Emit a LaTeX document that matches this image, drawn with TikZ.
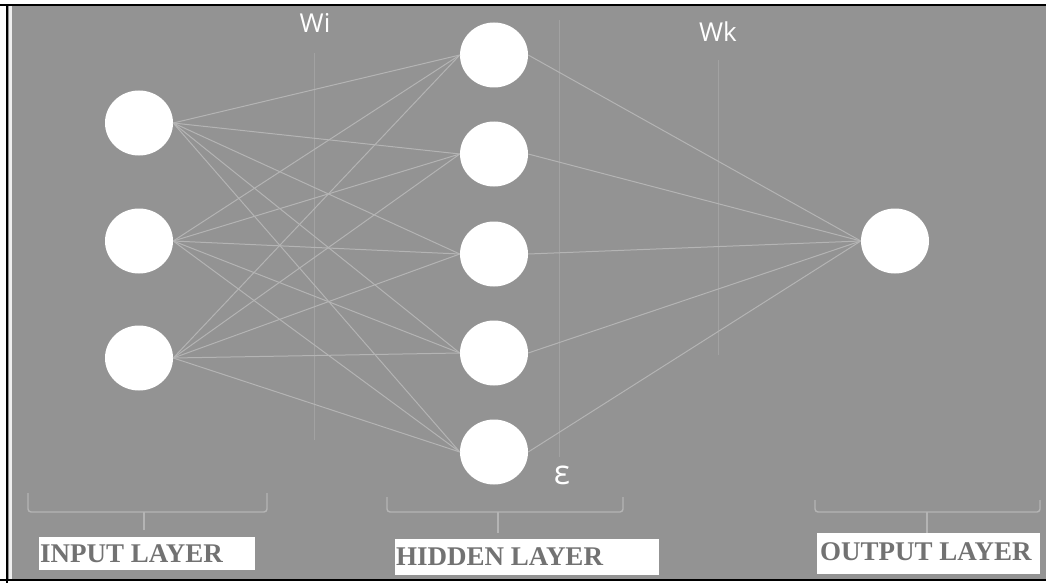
\documentclass[tikz,border=0pt]{standalone}
\usepackage{fontspec}
\setmainfont{Liberation Serif}
\newfontfamily\wfont{Open Sans}
\usetikzlibrary{shapes.geometric}
\definecolor{bg}{HTML}{939393}
\definecolor{conn}{HTML}{B4B4B4}
\definecolor{guide}{HTML}{A2A2A2}
\definecolor{labtxt}{HTML}{727272}
\tikzset{
  neuron/.style={ellipse, fill=white, draw=none, minimum width=68pt, minimum height=65pt, inner sep=0pt},
  link/.style={draw=conn, line width=1pt},
  guideline/.style={draw=guide, line width=0.9pt},
  brace/.style={draw=conn, line width=1.4pt, rounded corners=3pt},
  laybox/.style={fill=white, text=labtxt, font=\fontsize{27}{27}\selectfont\bfseries, anchor=west, inner sep=0pt, text height=20pt, text depth=4pt},
  wlab/.style={text=white, font=\wfont\fontsize{26}{26}\selectfont, inner sep=0pt}
}
\begin{document}
\begin{tikzpicture}[x=1pt,y=-1pt]
\useasboundingbox (0,0) rectangle (1046,583);
\fill[white] (0,0) rectangle (1046,583);
\fill[bg] (8,6) rectangle (1046,579);
\fill[white!85!bg] (9,6) rectangle (12,579);
\draw[black, line width=2pt] (0,5) -- (1046,5);
\draw[black, line width=2pt] (7,5) -- (7,583);
\draw[black, line width=2pt] (0,580) -- (1046,580);

% guide lines
\coordinate (g1a) at (314,53); \coordinate (g1b) at (314,440);
\coordinate (g2a) at (559,20); \coordinate (g2b) at (559,457);
\coordinate (g3a) at (718,60); \coordinate (g3b) at (718,355);
\draw[guideline] (g1a) -- (g1b);
\draw[guideline] (g2a) -- (g2b);
\draw[guideline] (g3a) -- (g3b);

% neurons
\node[neuron] (i1) at (139,123) {};
\node[neuron] (i2) at (139,241) {};
\node[neuron] (i3) at (139,358) {};
\node[neuron] (h1) at (494,55) {};
\node[neuron] (h2) at (494,154) {};
\node[neuron] (h3) at (494,254) {};
\node[neuron] (h4) at (494,353) {};
\node[neuron] (h5) at (494,452) {};
\node[neuron] (o1) at (895,241) {};

\foreach \i in {i1,i2,i3}{
  \foreach \h in {h1,h2,h3,h4,h5}{
    \draw[link] (\i.east) -- (\h.west);
  }
}
\foreach \h in {h1,h2,h3,h4,h5}{
  \draw[link] (\h.east) -- (o1.west);
}

% weight labels
\node[wlab] (wi) at (315,23) {Wi};
\node[wlab] (wk) at (718,32) {Wk};
\node[wlab, font=\wfont\fontsize{34}{34}\selectfont] (eps) at (562,475) {ε};

% braces
\draw[brace] (28,493) -- (28,512) -- (267,512) -- (267,493);
\draw[brace] (144,512) -- (144,530);
\draw[brace] (387,497) -- (387,512) -- (623,512) -- (623,497);
\draw[brace] (498,512) -- (498,533);
\draw[brace] (815,500) -- (815,512) -- (1040,512) -- (1040,500);
\draw[brace] (927,512) -- (927,533);

% layer labels
\fill[white] (39,537) rectangle (255,570);
\node[laybox] (lin) at (40,554) {INPUT LAYER};
\fill[white] (395,539) rectangle (659,575);
\node[laybox] (lhid) at (396,557) {HIDDEN LAYER};
\fill[white] (817,533) rectangle (1040,574);
\node[laybox] (lout) at (820,552) {OUTPUT LAYER};
\end{tikzpicture}
\end{document}
